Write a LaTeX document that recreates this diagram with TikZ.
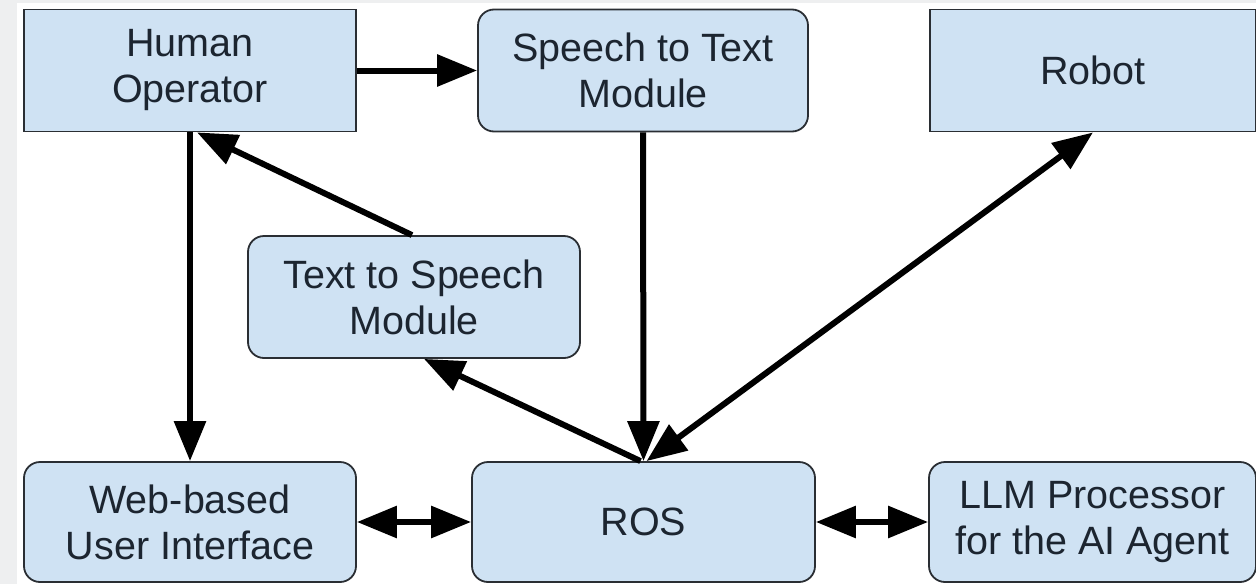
\documentclass[tikz,border=0pt]{standalone}
\usepackage{fontspec}
\setmainfont{Liberation Sans}
\usetikzlibrary{arrows.meta,calc}
\definecolor{boxfill}{HTML}{CFE2F3}
\definecolor{boxline}{HTML}{2A2E33}
\definecolor{boxtext}{HTML}{1C2530}
\definecolor{edgeband}{HTML}{EEEFF0}
\tikzset{
  block/.style={draw=boxline, line width=1.8pt, fill=boxfill, text=boxtext,
    align=center, inner sep=0pt, minimum height=122pt,
    font=\fontsize{39.5}{46}\selectfont},
  roundblock/.style={block, rounded corners=16pt},
  link/.style={line width=6pt, -{Triangle[length=40pt,width=31pt]}},
  duplex/.style={line width=6pt, {Triangle[length=40pt,width=31pt]}-{Triangle[length=40pt,width=31pt]}}
}
\begin{document}
\begin{tikzpicture}[x=1pt,y=-1pt]
  \useasboundingbox (0,0) rectangle (1256,584);
  \fill[white] (0,0) rectangle (1256,584);
  \fill[edgeband] (0,0) rectangle (17,584);
  \fill[edgeband] (0,0) rectangle (1256,3);

  % top row
  \node[block, minimum width=332pt] (human) at (190,70.5) {Human\\Operator};
  \node[roundblock, minimum width=330pt] (stt) at (643,70.5) {Speech to Text\\Module};
  \node[block, minimum width=326pt] (robot) at (1093,70.5) {Robot};

  % middle
  \node[roundblock, minimum width=332pt] (tts) at (414,297) {Text to Speech\\Module};

  % bottom row
  \node[roundblock, minimum width=332pt, minimum height=120pt] (web) at (190,522) {Web-based\\User Interface};
  \node[roundblock, minimum width=343pt, minimum height=120pt] (ros) at (643.5,522) {ROS};
  \node[roundblock, minimum width=327pt, minimum height=120pt] (llm) at (1092.5,522) {LLM Processor\\for the AI Agent};

  % anchor points on the borders
  \coordinate (humanin) at ([xshift=7pt]human.south);
  \coordinate (ttsout) at ([xshift=-2pt]tts.north);
  \coordinate (ttsin) at ([xshift=10pt]tts.south);
  \coordinate (rosout) at ([xshift=-3pt]ros.north);
  \coordinate (rosrobot) at ([xshift=3pt]ros.north);

  % connectors
  \draw[link] (human.east) -- (stt.west);
  \draw[link] (human.south) -- (web.north);
  \draw[link] (ttsout) -- (humanin);
  \draw[link] (stt.south) -- (ros.north);
  \draw[link] (rosout) -- (ttsin);
  \draw[duplex] (rosrobot) -- (robot.south);
  \draw[duplex] (web.east) -- (ros.west);
  \draw[duplex] (ros.east) -- (llm.west);
\end{tikzpicture}
\end{document}
